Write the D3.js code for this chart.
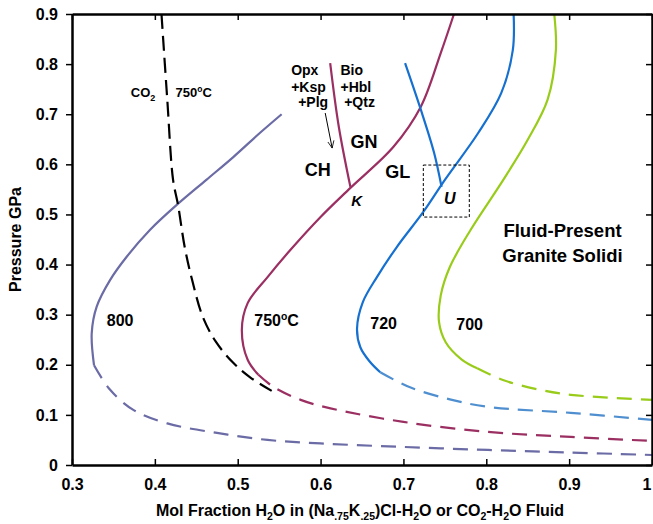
<!DOCTYPE html>
<html>
<head>
<meta charset="utf-8">
<script src="https://cdn.jsdelivr.net/npm/d3@7"></script>
<style>
  body { margin: 0; background: #fff; }
  text { font-family: "Liberation Sans", Arial, sans-serif; font-weight: bold; }
</style>
</head>
<body>
<div id="chart"></div>
<script>
// Set Up Space
var svgWidth = 653;
var svgHeight = 524;
var margin = { top: 14, right: 1, bottom: 59, left: 72 };
var width = svgWidth - margin.left - margin.right;
var height = svgHeight - margin.top - margin.bottom;

// Data (x = mol fraction H2O, y = pressure GPa)
var xTicks = [0.3, 0.4, 0.5, 0.6, 0.7, 0.8, 0.9, 1.0];
var yTicks = [0, 0.1, 0.2, 0.3, 0.4, 0.5, 0.6, 0.7, 0.8, 0.9];

var solidus800 = [[0.553, 0.70], [0.527, 0.663], [0.495, 0.615], [0.4625, 0.5695], [0.4264, 0.519],
  [0.394, 0.469], [0.366, 0.4156], [0.3459, 0.369], [0.3298, 0.316], [0.3238, 0.263], [0.3266, 0.199]];
var dashed800 = [[0.3266, 0.199], [0.346, 0.15], [0.374, 0.11], [0.415, 0.083], [0.475, 0.064],
  [0.536, 0.050], [0.60, 0.043], [0.70, 0.036], [0.802, 0.030], [0.90, 0.025], [1.0, 0.020]];

var solidus750 = [[0.761, 0.90], [0.745, 0.822], [0.721, 0.715], [0.688, 0.635], [0.636, 0.553],
  [0.600, 0.495], [0.564, 0.43], [0.536, 0.375], [0.512, 0.323], [0.505, 0.27], [0.512, 0.21], [0.525, 0.18]];
var dashed750 = [[0.525, 0.18], [0.543, 0.156], [0.576, 0.13], [0.612, 0.113], [0.70, 0.086],
  [0.802, 0.066], [0.902, 0.056], [1.0, 0.048]];

var solidus720 = [[0.833, 0.90], [0.832, 0.828], [0.818, 0.742], [0.790, 0.662], [0.750, 0.569],
  [0.724, 0.505], [0.692, 0.435], [0.668, 0.375], [0.651, 0.325], [0.644, 0.272],
  [0.648, 0.235], [0.659, 0.207], [0.672, 0.185]];
var dashed720 = [[0.672, 0.185], [0.708, 0.155], [0.756, 0.131], [0.802, 0.116], [0.902, 0.104], [1.0, 0.09]];

var solidus700 = [[0.882, 0.90], [0.884, 0.828], [0.874, 0.729], [0.850, 0.649], [0.8205, 0.569],
  [0.781, 0.469], [0.756, 0.395], [0.745, 0.338], [0.743, 0.285], [0.751, 0.245], [0.770, 0.211], [0.789, 0.193]];
var dashed700 = [[0.789, 0.193], [0.821, 0.169], [0.862, 0.151], [0.902, 0.14], [1.0, 0.13]];

var co2Solidus = [[0.408, 0.90], [0.415, 0.729], [0.422, 0.569], [0.428, 0.519], [0.436, 0.435],
  [0.445, 0.369], [0.458, 0.295], [0.474, 0.245], [0.494, 0.205], [0.515, 0.175], [0.541, 0.148]];

var reactionK = [[0.6116, 0.802], [0.622, 0.675], [0.636, 0.555]];
var reactionU = [[0.702, 0.802], [0.721, 0.709], [0.737, 0.623], [0.746, 0.555]];

var curves = [
  { pts: solidus800, color: "#6b6ba6", dash: null },
  { pts: dashed800, color: "#6b6ba6", dash: "15,9" },
  { pts: solidus750, color: "#9b2f62", dash: null },
  { pts: dashed750, color: "#9b2f62", dash: "15,9" },
  { pts: solidus720, color: "#1670d0", dash: null },
  { pts: dashed720, color: "#4f8fd0", dash: "15,9" },
  { pts: solidus700, color: "#99cc1a", dash: null },
  { pts: dashed700, color: "#99cc1a", dash: "15,9" },
  { pts: co2Solidus, color: "#000", dash: "15,7" },
  { pts: reactionK, color: "#9b2f62", dash: null },
  { pts: reactionU, color: "#1670d0", dash: null }
];

// Create SVG Wrapper
var svg = d3.select("#chart")
  .append("svg")
  .attr("width", svgWidth)
  .attr("height", svgHeight);

var chartGroup = svg.append("g")
  .attr("transform", `translate(${margin.left}, ${margin.top})`);

// Scaling
var xScale = d3.scaleLinear().domain([0.3, 1.0]).range([0, width]);
var yScale = d3.scaleLinear().domain([0, 0.9]).range([height, 0]);

var line = d3.line()
  .x(d => xScale(d[0]))
  .y(d => yScale(d[1]))
  .curve(d3.curveCatmullRom.alpha(0.5));

var fmt = d => (d === 0 ? "0" : d === 1 ? "1" : d3.format(".1f")(d));

// Curves
curves.forEach(function(c) {
  chartGroup.append("path")
    .attr("d", line(c.pts))
    .attr("fill", "none")
    .attr("stroke", c.color)
    .attr("stroke-width", 2.2)
    .attr("stroke-dasharray", c.dash);
});

// Dashed box around U
chartGroup.append("rect")
  .attr("x", xScale(0.724))
  .attr("y", yScale(0.5986))
  .attr("width", xScale(0.7795) - xScale(0.724))
  .attr("height", yScale(0.4948) - yScale(0.5986))
  .attr("fill", "none")
  .attr("stroke", "#000")
  .attr("stroke-width", 1)
  .attr("stroke-dasharray", "3,2");

// Arrow
svg.append("defs").append("marker")
  .attr("id", "arrow")
  .attr("viewBox", "0 0 10 10")
  .attr("refX", 9).attr("refY", 5)
  .attr("markerWidth", 8).attr("markerHeight", 8)
  .attr("orient", "auto")
  .append("path")
  .attr("d", "M0,1 L9,5 L0,9")
  .attr("fill", "none")
  .attr("stroke", "#000")
  .attr("stroke-width", 1);

chartGroup.append("line")
  .attr("x1", xScale(0.6056)).attr("y1", yScale(0.7024))
  .attr("x2", xScale(0.614)).attr("y2", yScale(0.6325))
  .attr("stroke", "#000")
  .attr("stroke-width", 1)
  .attr("marker-end", "url(#arrow)");

// Create Axis
var bottomAxis = d3.axisBottom(xScale).tickValues(xTicks).tickFormat(fmt).tickSizeInner(-6).tickSizeOuter(0).tickPadding(14);
var leftAxis = d3.axisLeft(yScale).tickValues(yTicks).tickFormat(fmt).tickSizeInner(6).tickSizeOuter(0).tickPadding(8);
var topAxis = d3.axisTop(xScale).tickValues(xTicks).tickFormat("").tickSizeInner(-6).tickSizeOuter(0);
var rightAxis = d3.axisRight(yScale).tickValues(yTicks).tickFormat("").tickSizeInner(-6).tickSizeOuter(0);

var gx = chartGroup.append("g").attr("transform", `translate(0, ${height})`).call(bottomAxis);
var gy = chartGroup.append("g").call(leftAxis);
var gt = chartGroup.append("g").call(topAxis);
var gr = chartGroup.append("g").attr("transform", `translate(${width}, 0)`).call(rightAxis);

[gx, gy, gt, gr].forEach(function(g) {
  g.selectAll(".domain").attr("stroke", "#000").attr("stroke-width", 2.5);
  g.selectAll(".tick line").attr("stroke", "#000").attr("stroke-width", 1.5);
  g.selectAll("text").attr("font-size", 16).attr("fill", "#000")
    .style("font-family", "'Liberation Sans', Arial, sans-serif").style("font-weight", "bold");
});
// keep the last x label inside the window
gx.selectAll(".tick text").filter(d => d === 1).attr("text-anchor", "end").attr("dx", -1);

// Labels
function label(x, y, size, txt, opts) {
  opts = opts || {};
  var t = chartGroup.append("text")
    .attr("x", xScale(x))
    .attr("y", yScale(y))
    .attr("font-size", size)
    .attr("text-anchor", opts.anchor || "start")
    .attr("fill", "#000");
  if (opts.italic) t.attr("font-style", "italic");
  return t.text(txt);
}

function degLabel(x, y, size, num) {
  var t = label(x, y, size, num);
  t.append("tspan").attr("dy", -size * 0.4).attr("font-size", size * 0.65).text("o");
  t.append("tspan").attr("dy", size * 0.4).text("C");
  return t;
}

var co2 = label(0.371, 0.734, 13, "CO");
co2.append("tspan").attr("dy", 4).attr("font-size", 9).text("2");
degLabel(0.425, 0.734, 13, "750");

label(0.5645, 0.778, 14, "Opx");
label(0.5645, 0.745, 14, "+Ksp");
label(0.573, 0.714, 14, "+Plg");
label(0.624, 0.778, 14, "Bio");
label(0.624, 0.745, 14, "+Hbl");
label(0.6285, 0.714, 14, "+Qtz");

label(0.636, 0.633, 18, "GN");
label(0.581, 0.577, 18, "CH");
label(0.678, 0.573, 18, "GL");
label(0.637, 0.517, 15, "K", { italic: true });
label(0.749, 0.521, 16, "U", { italic: true });

label(0.892, 0.455, 18.5, "Fluid-Present", { anchor: "middle" });
label(0.892, 0.405, 18.5, "Granite Solidi", { anchor: "middle" });

label(0.342, 0.277, 16, "800");
degLabel(0.520, 0.277, 16, "750");
label(0.660, 0.271, 16, "720");
label(0.7638, 0.269, 16, "700");

// Axis titles
var xt = svg.append("text")
  .attr("x", 360)
  .attr("y", 516)
  .attr("text-anchor", "middle")
  .attr("font-size", 16)
  .attr("fill", "#000");
xt.append("tspan").text("Mol Fraction H");
xt.append("tspan").attr("dy", 4).attr("font-size", 10.5).text("2");
xt.append("tspan").attr("dy", -4).text("O in (Na");
xt.append("tspan").attr("dy", 4).attr("font-size", 10.5).text(".75");
xt.append("tspan").attr("dy", -4).text("K");
xt.append("tspan").attr("dy", 4).attr("font-size", 10.5).text(".25");
xt.append("tspan").attr("dy", -4).text(")Cl-H");
xt.append("tspan").attr("dy", 4).attr("font-size", 10.5).text("2");
xt.append("tspan").attr("dy", -4).text("O or CO");
xt.append("tspan").attr("dy", 4).attr("font-size", 10.5).text("2");
xt.append("tspan").attr("dy", -4).text("-H");
xt.append("tspan").attr("dy", 4).attr("font-size", 10.5).text("2");
xt.append("tspan").attr("dy", -4).text("O Fluid");

svg.append("text")
  .attr("transform", `translate(21, ${margin.top + height / 2}) rotate(-90)`)
  .attr("text-anchor", "middle")
  .attr("font-size", 16)
  .attr("fill", "#000")
  .text("Pressure GPa");
</script>
</body>
</html>
